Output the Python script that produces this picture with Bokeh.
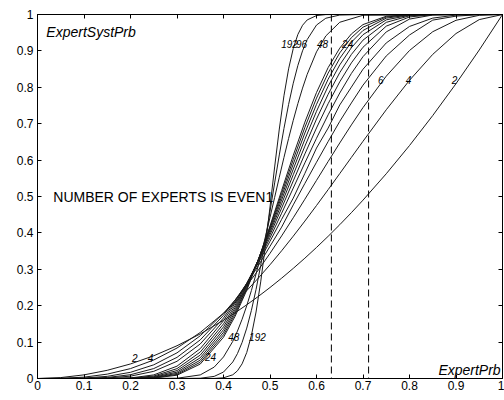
from bokeh.plotting import figure
from bokeh.models import FixedTicker, LinearAxis, Span, Range1d
from bokeh.embed import file_html
from bokeh.resources import INLINE
from bokeh.core.properties import value

# ---------------- data ----------------
tick_vals = [0, 0.1, 0.2, 0.3, 0.4, 0.5, 0.6, 0.7, 0.8, 0.9, 1]
tick_labels = ["0", "0.1", "0.2", "0.3", "0.4", "0.5", "0.6", "0.7", "0.8", "0.9", "1"]

# expert probability grid for the small committees (2..24 experts)
x_small = [0, 0.05, 0.1, 0.15, 0.2, 0.25, 0.3, 0.35, 0.4, 0.425, 0.45, 0.475, 0.5,
           0.525, 0.55, 0.575, 0.6, 0.625, 0.65, 0.675, 0.7, 0.75, 0.8, 0.85, 0.9, 0.95, 1]
n2 = [0, .0025, .01, .0225, .04, .0625, .09, .1225, .16, .1806, .2025, .2256, .25,
      .2756, .3025, .3306, .36, .3906, .4225, .4556, .49, .5625, .64, .7225, .81, .9025, 1]
n4 = [0, .0005, .0037, .012, .0272, .0508, .0837, .1265, .1792, .2092, .2415, .276, .3125,
      .3509, .391, .4325, .4752, .5188, .563, .6074, .6517, .7383, .8192, .8905, .9477, .986, 1]
n6 = [0, .0001, .0013, .0059, .017, .0376, .0705, .1174, .1792, .2155, .2553, .2981, .3438,
      .3917, .4415, .4926, .5443, .5961, .6471, .6967, .7443, .8306, .9011, .9527, .9841, .9978, 1]
n8 = [0, 0, .0004, .0029, .0104, .0273, .058, .1061, .1737, .2157, .2603, .3101, .3633,
      .4159, .477, .536, .5941, .651, .7064, .757, .8059, .8862, .9437, .9846, .9955, .9996, 1]
n10 = [0, 0, .0001, .0014, .0064, .0197, .0473, .0949, .1662, .2119, .2616, .3174, .377,
       .4372, .4956, .5636, .6331, .688, .7515, .8005, .8497, .9219, .9672, .9901, .9984, .9999, 1]
n12 = [0, 0, 0, .0001, .0015, .0099, .0339, .082, .1587, .207, .2617, .3219, .3864,
       .454, .5231, .5924, .66, .7245, .7843, .838, .8843, .9522, .9874, .9986, 1, 1, 1]
n14 = [0, 0, 0, 0, .0008, .0068, .0271, .0726, .15, .201, .2596, .3246, .3947,
       .4681, .5428, .617, .6883, .755, .815, .8671, .9101, .968, .9933, .9995, 1, 1, 1]
n16 = [0, 0, 0, 0, .0005, .0047, .0218, .0643, .1419, .1949, .2568, .3262, .4013,
       .48, .5599, .6383, .7127, .7807, .8403, .8902, .9296, .9784, .9964, 1, 1, 1, 1]
n18 = [0, 0, 0, 0, .0003, .0032, .0175, .0569, .1342, .1888, .2536, .3269, .4068,
       .4906, .5751, .6573, .7341, .8029, .8615, .9088, .9445, .9853, .998, 1, 1, 1, 1]
n20 = [0, 0, 0, 0, .0001, .0023, .0141, .0504, .127, .1828, .2501, .3272, .4115,
       .5, .5889, .6745, .7532, .8222, .8794, .9239, .9561, .99, .9989, 1, 1, 1, 1]
n22 = [0, 0, 0, 0, .0001, .0016, .0113, .0447, .12, .1769, .2465, .327, .4156,
       .5085, .6014, .69, .7703, .8391, .8946, .9364, .9652, .9931, .9994, 1, 1, 1, 1]
n24 = [0, 0, 0, 0, 0, .0011, .0091, .0397, .1134, .1711, .2427, .3265, .4191,
       .5163, .613, .7043, .7857, .8541, .9076, .9466, .9723, .9952, .9997, 1, 1, 1, 1]

# finer grid for the large committees (48, 96, 192 experts)
x_big = [0, .3, .35, .38, .4, .42, .43, .44, .45, .46, .47, .48, .49, .5, .51, .52, .53,
         .54, .55, .56, .57, .58, .6, .62, .65, .7, 1]
n48 = [0, .0007, .0099, .0313, .0592, .1022, .1302, .1628, .2001, .2417, .2874, .3365, .3886,
       .4426, .4977, .5529, .6071, .6595, .7093, .7555, .7978, .8356, .8974, .9411, .9787, .9979, 1]
n96 = [0, 0, .0007, .0058, .0177, .0454, .0684, .099, .1385, .1871, .2448, .3105, .3828,
       .4594, .5374, .6142, .6868, .753, .8112, .8603, .9002, .9312, .971, .9897, .9985, 1, 1]
n192 = [0, 0, 0, .0002, .0019, .0102, .0211, .0403, .0715, .1181, .1827, .2654, .3634,
        .4712, .5812, .6853, .7766, .8507, .9066, .9454, .9704, .9851, .9971, .9997, 1, 1, 1]

small_series = [n2, n4, n6, n8, n10, n12, n14, n16, n18, n20, n22, n24]
big_series = [n48, n96, n192]

# vertical reference lines (ExpertPrb)
dash_x = [0.632, 0.712]

# curve labels
lab_text = ["192", "96", "48", "24", "6", "4", "2", "2", "4", "24", "48", "192"]
lab_x = [0.542, 0.568, 0.613, 0.667, 0.738, 0.798, 0.897, 0.209, 0.243, 0.372, 0.422, 0.473]
lab_y = [0.92, 0.92, 0.92, 0.92, 0.82, 0.82, 0.82, 0.055, 0.055, 0.058, 0.113, 0.113]

# ---------------- figure ----------------
FONT = "Liberation Sans"
p = figure(width=504, height=400, output_backend="svg", toolbar_location=None,
           x_range=Range1d(0, 1), y_range=Range1d(0, 1),
           min_border_left=37, min_border_right=2, min_border_top=14, min_border_bottom=22)
p.xgrid.visible = False
p.ygrid.visible = False
p.outline_line_color = "black"
p.background_fill_color = "white"
p.border_fill_color = "white"

overrides = {v: s for v, s in zip(tick_vals, tick_labels)}
for ax in (p.xaxis[0], p.yaxis[0]):
    ax.ticker = FixedTicker(ticks=tick_vals)
    ax.major_label_overrides = overrides
    ax.major_tick_in = 4
    ax.major_tick_out = 0
    ax.minor_tick_in = 0
    ax.minor_tick_out = 0
    ax.axis_line_color = "black"
    ax.major_tick_line_color = "black"
    ax.major_label_text_font = FONT
    ax.major_label_text_font_size = "12px"
    ax.major_label_text_color = "black"
p.yaxis[0].major_label_standoff = 4
p.xaxis[0].major_label_standoff = 2

blank = {v: "" for v in tick_vals}
for loc in ("above", "right"):
    ax = LinearAxis(ticker=FixedTicker(ticks=tick_vals), major_label_overrides=blank,
                    major_tick_in=4, major_tick_out=0, minor_tick_in=0, minor_tick_out=0,
                    major_label_standoff=0, axis_line_color="black",
                    major_tick_line_color="black")
    p.add_layout(ax, loc)

for ys in small_series:
    p.line(x_small, ys, line_color="#1a1a1a", line_width=1)
for ys in big_series:
    p.line(x_big, ys, line_color="#1a1a1a", line_width=1)

for xv in dash_x:
    p.add_layout(Span(location=xv, dimension="height", line_color="black",
                      line_width=1, line_dash="7 4"))

p.text(x=lab_x, y=lab_y, text=lab_text, text_font=value(FONT), text_font_style="italic",
       text_font_size="10px", text_align="center", text_baseline="middle", text_color="black")

p.text(x=[0.019], y=[0.951], text=["ExpertSystPrb"], text_font=value(FONT),
       text_font_style="italic", text_font_size="14px", text_align="left",
       text_baseline="alphabetic", text_color="black")
p.text(x=[0.996], y=[0.022], text=["ExpertPrb"], text_font=value(FONT),
       text_font_style="italic", text_font_size="14px", text_align="right",
       text_baseline="alphabetic", text_color="black")
p.text(x=[0.034], y=[0.5], text=["NUMBER OF EXPERTS IS EVEN1"], text_font=value(FONT),
       text_font_size="14px", text_align="left", text_baseline="alphabetic",
       text_color="black")

open("out.html", "w").write(file_html(p, INLINE))
